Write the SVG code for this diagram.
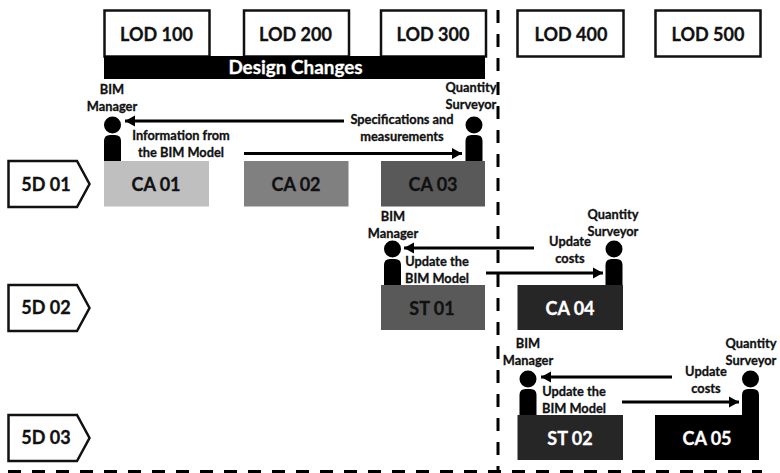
<svg xmlns="http://www.w3.org/2000/svg" width="780" height="473" viewBox="0 0 780 473">
<style>
text{font-family:"Lato","Liberation Sans",sans-serif;font-weight:700;text-anchor:middle;fill:#111;stroke:#111;stroke-width:.3}
.lod{fill:#fff;stroke:#111;stroke-width:2.5}
.big{font-size:18px}
.sm{font-size:12.8px}
.w{fill:#fff;stroke:#fff}
.tag{fill:#fff;stroke:#111;stroke-width:2.5;stroke-linejoin:miter}
.ln{stroke:#000;stroke-width:3.2;fill:none}
.dash{stroke:#000;stroke-width:3;fill:none;stroke-dasharray:13 11}
.p{fill:#000}
</style>
<defs>
<marker id="ah" markerUnits="userSpaceOnUse" markerWidth="11" markerHeight="12" refX="10" refY="6" orient="auto"><path d="M0 0.500 L10 6 L0 11.500 Z" fill="#000"/></marker>
<g id="person"><circle cx="8.500" cy="-36" r="8.500"/><path d="M0 0V-20Q0-26 6-26H11Q17-26 17-20V0Z"/></g>
</defs>
<rect fill="#fff" width="780" height="473"/>
<g id="lod-100"><rect class="lod" x="104.500" y="10.500" width="105" height="46"/><text class="big" x="156.500" y="40.500">LOD 100</text></g>
<g id="lod-200"><rect class="lod" x="244" y="10.500" width="105" height="46"/><text class="big" x="295.500" y="40.500">LOD 200</text></g>
<g id="lod-300"><rect class="lod" x="381" y="10.500" width="105" height="46"/><text class="big" x="433" y="40.500">LOD 300</text></g>
<g id="lod-400"><rect class="lod" x="517.500" y="10.500" width="106" height="46"/><text class="big" x="571" y="40.500">LOD 400</text></g>
<g id="lod-500"><rect class="lod" x="655.500" y="10.500" width="105" height="46"/><text class="big" x="708" y="40.500">LOD 500</text></g>
<g id="design-changes"><rect x="104" y="56" width="381" height="23" fill="#000"/><text class="w" font-size="18.900" x="295.500" y="74">Design Changes</text></g>
<g id="tag-5d01"><path class="tag" d="M8.500 161H77L89.500 184L77 207H8.500Z"/><text class="big" x="46" y="190.500">5D 01</text></g>
<g id="tag-5d02"><path class="tag" d="M8.500 285H77L89.500 308L77 331H8.500Z"/><text class="big" x="46" y="314">5D 02</text></g>
<g id="tag-5d03"><path class="tag" d="M8.500 415H77L89.500 438L77 461H8.500Z"/><text class="big" x="46" y="444">5D 03</text></g>
<g id="ca01"><rect x="104" y="161" width="105" height="45.500" fill="#bfbfbf"/><text class="big" x="156" y="190.500">CA 01</text></g>
<g id="ca02"><rect x="244" y="161" width="104.500" height="45.500" fill="#808080"/><text class="big" x="296" y="190.500">CA 02</text></g>
<g id="ca03"><rect x="381" y="161" width="104" height="45.500" fill="#595959"/><text class="big" x="433" y="190.500">CA 03</text></g>
<g id="st01"><rect x="381" y="285" width="104" height="45" fill="#595959"/><text class="big" x="432" y="314.500">ST 01</text></g>
<g id="ca04"><rect x="517.500" y="285" width="105.500" height="45" fill="#262626"/><text class="big w" x="570" y="314.500">CA 04</text></g>
<g id="st02"><rect x="517.500" y="415" width="105.500" height="45" fill="#262626"/><text class="big w" x="570" y="444.500">ST 02</text></g>
<g id="ca05"><rect x="655" y="415" width="104" height="45" fill="#000"/><text class="big w" x="707" y="444.500">CA 05</text></g>
<g id="connectors">
<path class="dash" d="M498 10V473"/>
<path class="dash" d="M8 471.500H762"/>
<path class="ln" d="M344 121H125" marker-end="url(#ah)"/>
<path class="ln" d="M244 153.500H462" marker-end="url(#ah)"/>
<path class="ln" d="M534 248H404" marker-end="url(#ah)"/>
<path class="ln" d="M486 273H603" marker-end="url(#ah)"/>
<path class="ln" d="M672 377H541" marker-end="url(#ah)"/>
<path class="ln" d="M622 402H739" marker-end="url(#ah)"/>
</g>
<g id="manager-1"><use href="#person" class="p" x="104" y="161"/><text class="sm" x="112" y="93.500">BIM</text><text class="sm" x="112" y="110.500">Manager</text></g>
<g id="surveyor-1"><use href="#person" class="p" x="465.500" y="161"/><text class="sm" x="471" y="91.500">Quantity</text><text class="sm" x="471" y="108.500">Surveyor</text></g>
<g id="manager-2"><use href="#person" class="p" x="384" y="285"/><text class="sm" x="393" y="220.500">BIM</text><text class="sm" x="393" y="237.500">Manager</text></g>
<g id="surveyor-2"><use href="#person" class="p" x="605.500" y="285"/><text class="sm" x="613" y="218.500">Quantity</text><text class="sm" x="613" y="235.500">Surveyor</text></g>
<g id="manager-3"><use href="#person" class="p" x="519.500" y="415"/><text class="sm" x="528" y="347.500">BIM</text><text class="sm" x="528" y="364.500">Manager</text></g>
<g id="surveyor-3"><use href="#person" class="p" x="742" y="415"/><text class="sm" x="751" y="347.500">Quantity</text><text class="sm" x="751" y="364.500">Surveyor</text></g>
<g id="labels">
<text class="sm" x="181" y="139.500">Information from</text><text class="sm" x="181" y="156.500">the BIM Model</text>
<text class="sm" x="402" y="123.500">Specifications and</text><text class="sm" x="402" y="140.500">measurements</text>
<text class="sm" x="570" y="245.500">Update</text><text class="sm" x="570" y="262.500">costs</text>
<text class="sm" x="437" y="265.500">Update the</text><text class="sm" x="437" y="282.500">BIM Model</text>
<text class="sm" x="706" y="375.500">Update</text><text class="sm" x="706" y="392.500">costs</text>
<text class="sm" x="574" y="395.500">Update the</text><text class="sm" x="574" y="412.500">BIM Model</text>
</g>
</svg>
